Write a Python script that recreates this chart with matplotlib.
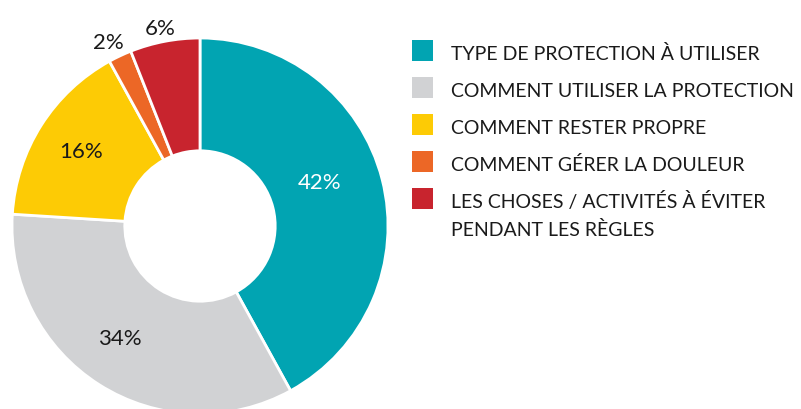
import matplotlib
matplotlib.use("Agg")
import matplotlib.pyplot as plt
from matplotlib.patches import Rectangle
import numpy as np

categories = [
    "TYPE DE PROTECTION À UTILISER",
    "COMMENT UTILISER LA PROTECTION",
    "COMMENT RESTER PROPRE",
    "COMMENT GÉRER LA DOULEUR",
    "LES CHOSES / ACTIVITÉS À ÉVITER\nPENDANT LES RÈGLES",
]
values = [42, 34, 16, 2, 6]
pct_labels = ["42%", "34%", "16%", "2%", "6%"]
colors = ["#01A4B2", "#D1D2D4", "#FDCB05", "#EC6726", "#C8242E"]
label_colors = ["white", "#1a1a1a", "#1a1a1a", "#1a1a1a", "#1a1a1a"]
label_radius = [0.678, 0.732, 0.747, 1.095, 1.072]
label_angle_offset = [6.0, -3.1, 0.3, 1.2, 0.6]

plt.rcParams['font.family'] = ['Lato', 'DejaVu Sans']
W, H = 801, 410
fig = plt.figure(figsize=(W / 100, H / 100), dpi=100)

cx, cy, R = 200, 227, 188
ax = fig.add_axes([(cx - R) / W, (H - cy - R) / H, 2 * R / W, 2 * R / H])

wedges, _ = ax.pie(values, colors=colors, startangle=90, counterclock=False,
                   radius=1, wedgeprops=dict(width=0.6, edgecolor='white', linewidth=2))
ax.set_xlim(-1, 1)
ax.set_ylim(-1, 1)
ax.set_aspect('equal')
ax.axis('off')

for w, lab, col, r, off in zip(wedges, pct_labels, label_colors, label_radius, label_angle_offset):
    ang = np.deg2rad((w.theta1 + w.theta2) / 2 + off)
    ax.text(r * np.cos(ang), r * np.sin(ang), lab, ha='center', va='center',
            fontsize=16, color=col, clip_on=False)

fs = 14
for i, (cat, col) in enumerate(zip(categories, colors)):
    sq_cy = 51.5 + 37 * i
    fig.patches.append(Rectangle((412 / W, (H - sq_cy - 10.5) / H), 21 / W, 21 / H,
                                 transform=fig.transFigure, facecolor=col, edgecolor='none'))
    lines = cat.split("\n")
    for j, line in enumerate(lines):
        base = 60 + 37 * i + 28 * j
        fig.text(451 / W, (H - base) / H, line, ha='left', va='baseline', fontsize=fs,
                 color='#1a1a1a')

fig.savefig("out.png", dpi=100)
